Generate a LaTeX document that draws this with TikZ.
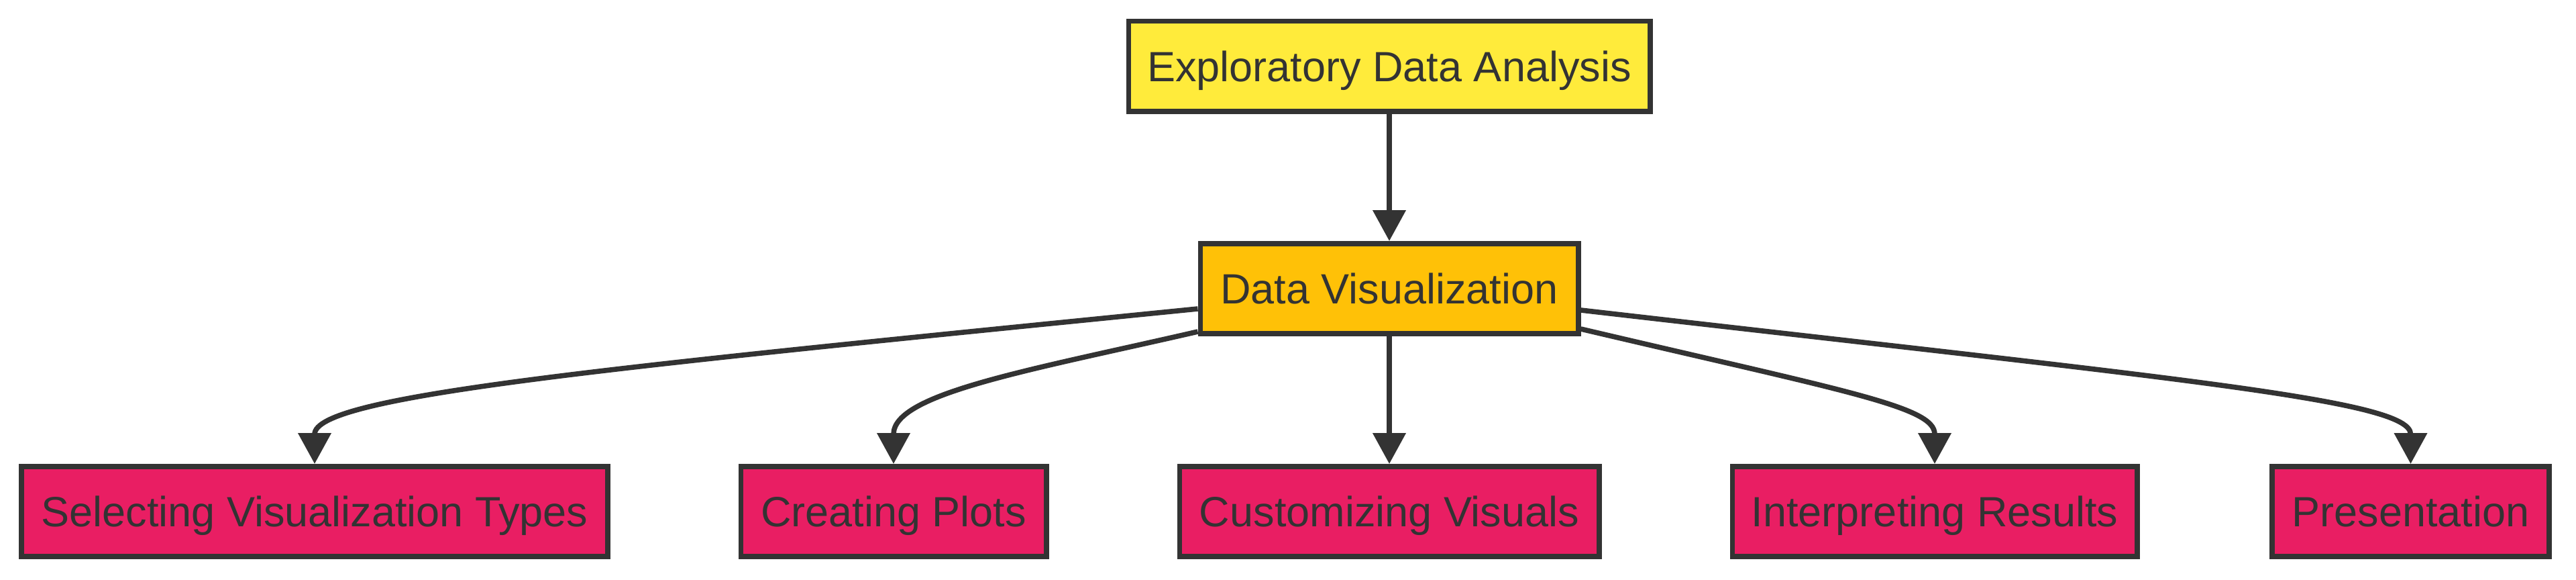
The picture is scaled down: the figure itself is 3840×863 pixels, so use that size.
\documentclass[tikz,border=0pt]{standalone}
\usepackage{fontspec}
\setmainfont{Liberation Sans}
\usetikzlibrary{arrows.meta,calc}
\definecolor{edacol}{HTML}{FFEB3B}
\definecolor{dvcol}{HTML}{FFC107}
\definecolor{leafcol}{HTML}{E91E63}
\definecolor{inkcol}{HTML}{333333}
\tikzset{
  box/.style={draw=inkcol, line width=7.7pt, text=inkcol, inner xsep=0pt, inner ysep=0pt,
    minimum height=134.3pt, text height=45.1pt, text depth=0pt,
    font=\fontsize{63pt}{75pt}\selectfont},
  edabox/.style={box, fill=edacol},
  dvbox/.style={box, fill=dvcol},
  leafbox/.style={box, fill=leafcol},
  edge/.style={draw=inkcol, line width=7.6pt, -{Triangle[length=46pt,width=48pt]}}
}
\begin{document}
\begin{tikzpicture}[x=1pt,y=-1pt]
\useasboundingbox[fill=white] (0,0) rectangle (3840,863);
\node[edabox, minimum width=777.3pt] (eda) at (2071,98.5) {Exploratory Data Analysis};
\node[dvbox, minimum width=563.3pt] (dv) at (2071,430) {Data Visualization};
\node[leafbox, minimum width=874.3pt] (sel) at (469,762) {Selecting Visualization Types};
\node[leafbox, minimum width=455.3pt] (cre) at (1332,762) {Creating Plots};
\node[leafbox, minimum width=625.3pt] (cus) at (2071,762) {Customizing Visuals};
\node[leafbox, minimum width=603.3pt] (int) at (2884,762) {Interpreting Results};
\node[leafbox, minimum width=413.3pt] (pre) at (3593.5,762) {Presentation};
\draw[edge] (eda.south) -- (dv.north);
\draw[edge] ($(dv.west)+(0,30)$) .. controls +(-900,90) and +(0,-101) .. (sel.north);
\draw[edge] ($(dv.west)+(0,64)$) .. controls +(-250,57.5) and +(0,-105) .. (cre.north);
\draw[edge] (dv.south) -- (cus.north);
\draw[edge] ($(dv.east)+(0,60)$) .. controls +(400,94) and +(0,-85) .. (int.north);
\draw[edge] ($(dv.east)+(0,32)$) .. controls +(900,103.5) and +(0,-95) .. (pre.north);
\end{tikzpicture}
\end{document}
